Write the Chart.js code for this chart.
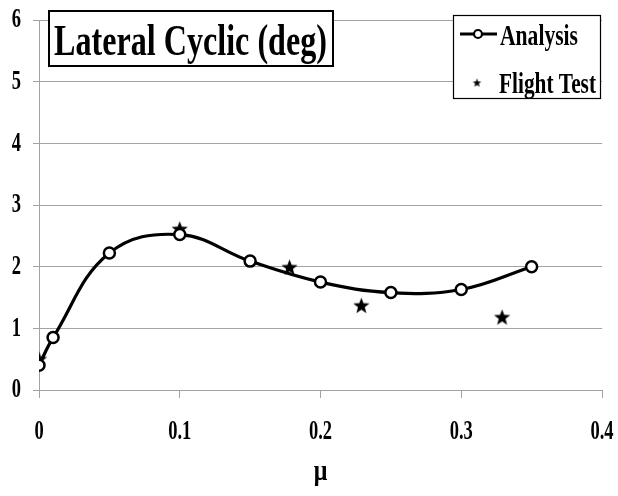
<!DOCTYPE html>
<html>
<head>
<meta charset="utf-8">
<script src="https://cdn.jsdelivr.net/npm/chart.js@4.4.0/dist/chart.umd.min.js"></script>
<style>
  body { margin: 0; background: #fff; }
  canvas { display: block; }
</style>
</head>
<body>
<canvas id="my_chart" width="618" height="496"></canvas>
<script>
// data
const analysisMu = [0, 0.01, 0.05, 0.1, 0.15, 0.2, 0.25, 0.3, 0.35];
const analysisDeg = [0.4, 0.85, 2.22, 2.52, 2.09, 1.75, 1.58, 1.63, 2.0];
const flightMu = [0, 0.1, 0.178, 0.229, 0.329];
const flightDeg = [0.49, 2.6, 1.98, 1.36, 1.17];
const xTicks = [0, 0.1, 0.2, 0.3, 0.4];
const yTicks = [0, 1, 2, 3, 4, 5, 6];
const chartTitle = "Lateral Cyclic (deg)";
const xTitle = "\u03bc";

const serif = "'Liberation Serif', 'Times New Roman', serif";
const gridColor = "#a3a3a3";

function makeStar(r) {
  const c = document.createElement("canvas");
  c.width = c.height = Math.ceil(r * 2 + 2);
  const g = c.getContext("2d");
  const cx = c.width / 2, cy = c.height / 2;
  g.beginPath();
  for (let i = 0; i < 10; i++) {
    const rad = i % 2 ? r * 0.42 : r;
    const a = -Math.PI / 2 + i * Math.PI / 5;
    g.lineTo(cx + rad * Math.cos(a), cy + rad * Math.sin(a));
  }
  g.closePath();
  g.fillStyle = "#000";
  g.fill();
  return c;
}
const bigStar = makeStar(8.5);
const smallStar = makeStar(4.5);

// squeezed bold serif text, like the narrow look of the original
function squeezeText(ctx, txt, x, y, size, sx, align) {
  ctx.save();
  ctx.font = "bold " + size + "px " + serif;
  ctx.fillStyle = "#000";
  ctx.textBaseline = "middle";
  const w = ctx.measureText(txt).width * sx;
  let left = x;
  if (align === "center") left = x - w / 2;
  if (align === "right") left = x - w;
  ctx.translate(left, y);
  ctx.scale(sx, 1);
  ctx.textAlign = "left";
  ctx.fillText(txt, 0, 0);
  ctx.restore();
}

function fitText(ctx, txt, x0, x1, baseline, size) {
  ctx.save();
  ctx.font = "bold " + size + "px " + serif;
  ctx.fillStyle = "#000";
  ctx.textBaseline = "alphabetic";
  const sx = (x1 - x0) / ctx.measureText(txt).width;
  ctx.translate(x0, baseline);
  ctx.scale(sx, 1);
  ctx.fillText(txt, 0, 0);
  ctx.restore();
}

const decorations = {
  id: "decorations",
  afterDraw(chart) {
    const ctx = chart.ctx;
    const xs = chart.scales.x, ys = chart.scales.y;

    // tick labels
    xTicks.forEach(v => {
      const lbl = v === 0 ? "0" : v.toFixed(1);
      squeezeText(ctx, lbl, xs.getPixelForValue(v), 432, 28, 0.66, "center");
    });
    yTicks.forEach(v => {
      squeezeText(ctx, String(v), 21, ys.getPixelForValue(v), 28, 0.66, "right");
    });
    squeezeText(ctx, xTitle, xs.getPixelForValue(0.2), 472, 30, 0.8, "center");

    // title box
    ctx.save();
    ctx.fillStyle = "#fff";
    ctx.fillRect(49, 11, 284, 55);
    ctx.strokeStyle = "#000";
    ctx.lineWidth = 2;
    ctx.strokeRect(49, 11, 284, 55);
    ctx.restore();
    fitText(ctx, chartTitle, 54, 327, 55, 45);

    // legend box
    ctx.save();
    ctx.fillStyle = "#fff";
    ctx.fillRect(453.5, 15.5, 147, 83);
    ctx.strokeStyle = "#000";
    ctx.lineWidth = 1.2;
    ctx.strokeRect(453.5, 15.5, 147, 83);
    ctx.beginPath();
    ctx.moveTo(460, 34);
    ctx.lineTo(497, 34);
    ctx.lineWidth = 3;
    ctx.stroke();
    ctx.beginPath();
    ctx.arc(478, 34, 4, 0, Math.PI * 2);
    ctx.fillStyle = "#fff";
    ctx.fill();
    ctx.lineWidth = 2.2;
    ctx.stroke();
    ctx.drawImage(smallStar, 477 - smallStar.width / 2, 83 - smallStar.height / 2);
    ctx.restore();
    const ds = chart.data.datasets;
    fitText(ctx, ds[0].label, 500, 578, 45, 29);
    fitText(ctx, ds[1].label, 499, 596, 93, 29);
  }
};

const ctx = document.getElementById("my_chart");
new Chart(ctx, {
  type: "scatter",
  data: {
    datasets: [
      {
        label: "Analysis",
        data: analysisMu.map((m, i) => ({ x: m, y: analysisDeg[i] })),
        showLine: true,
        borderColor: "#000",
        borderWidth: 3.2,
        tension: 0.4,
        pointRadius: 5.5,
        pointBorderWidth: 2.5,
        pointBackgroundColor: "#fff",
        pointBorderColor: "#000",
      },
      {
        label: "Flight Test",
        data: flightMu.map((m, i) => ({ x: m, y: flightDeg[i] })),
        showLine: false,
        pointStyle: bigStar,
      },
    ],
  },
  options: {
    responsive: false,
    animation: false,
    layout: { padding: { left: 33, right: 16, top: 20, bottom: 98 } },
    plugins: {
      legend: { display: false },
      title: { display: false },
      tooltip: { enabled: false },
    },
    scales: {
      x: {
        type: "linear",
        min: 0,
        max: 0.4,
        ticks: { display: false, stepSize: 0.1 },
        grid: { drawOnChartArea: false, drawTicks: true, tickLength: 8, color: gridColor },
        border: { color: gridColor },
      },
      y: {
        min: 0,
        max: 6,
        ticks: { display: false, stepSize: 1 },
        grid: { drawTicks: true, tickLength: 6, color: gridColor },
        border: { color: gridColor },
      },
    },
  },
  plugins: [decorations],
});
</script>
</body>
</html>
